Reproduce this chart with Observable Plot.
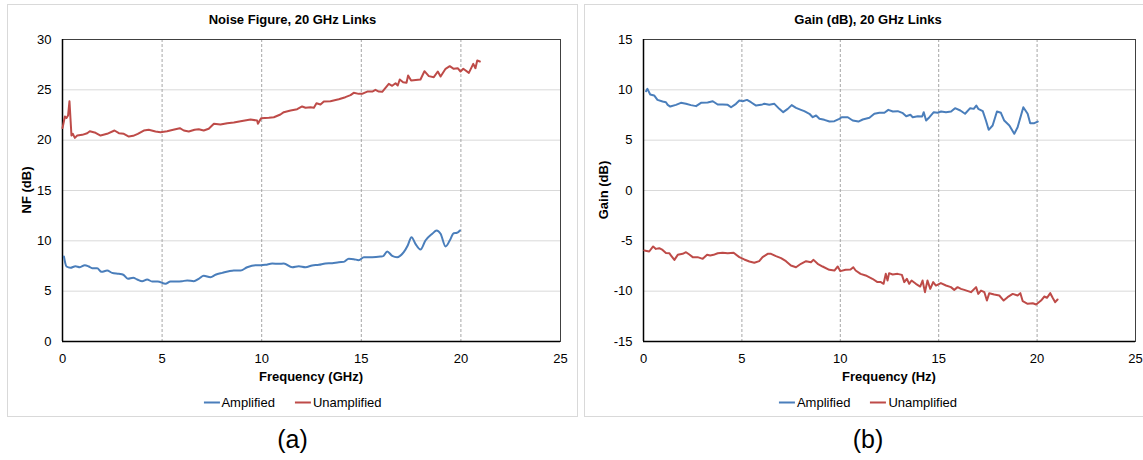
<!DOCTYPE html>
<html><head><meta charset="utf-8">
<script src="https://cdn.jsdelivr.net/npm/d3@7"></script>
<script src="https://cdn.jsdelivr.net/npm/@observablehq/plot@0.6"></script>
<style>
body{margin:0;background:#fff;font-family:"Liberation Sans",Arial,sans-serif;}
#root{position:relative;width:1143px;height:460px;overflow:hidden;}
.box{position:absolute;border:1px solid #d9d9d9;box-sizing:border-box;}
.t{position:absolute;white-space:nowrap;transform:translate(-50%,-50%);color:#000;line-height:1;}
.title{font-size:13px;font-weight:bold;}
.axt{font-size:13px;font-weight:bold;}
.yt{transform:translate(-50%,-50%) rotate(-90deg);}
.leg{font-size:13px;display:flex;align-items:center;}
.sw{display:inline-block;width:16px;height:2px;margin-right:2px;}
.cap{font-size:25px;}
.plot{position:absolute;top:0;}
</style></head>
<body><div id="root"></div>
<script>
// ---------- data ----------
const xTicks = [0, 5, 10, 15, 20, 25];
const nfTicks = [0, 5, 10, 15, 20, 25, 30];
const gainTicks = [-15, -10, -5, 0, 5, 10, 15];
const seriesNames = ["Amplified", "Unamplified"];
const seriesColors = ["#4a7ebb", "#be4b48"];

// (a) Noise figure, amplified
const nfAmpFreq = [0.07,0.2,0.4,0.65,0.87,1.12,1.32,1.49,1.74,1.96,2.24,2.49,2.83,3.05,3.28,3.55,3.75,4.0,4.25,4.5,4.78,5.17,5.42,5.76,6.0,6.26,6.59,6.84,7.09,7.43,7.68,8.02,8.35,8.6,8.94,9.27,9.69,9.97,10.19,10.53,10.86,11.11,11.53,11.86,12.2,12.53,12.87,13.2,13.54,13.87,14.12,14.37,14.62,14.87,15.13,15.55,15.96,16.1,16.3,16.55,16.8,17.13,17.33,17.52,17.72,17.97,18.22,18.56,18.78,18.98,19.23,19.44,19.64,19.81,19.95];
const nfAmpValues = [8.44,7.45,7.32,7.48,7.38,7.58,7.45,7.28,7.28,6.92,7.05,6.82,6.72,6.63,6.23,6.33,6.16,5.99,6.16,5.96,5.96,5.73,5.96,5.96,5.99,6.06,5.99,6.23,6.53,6.39,6.63,6.82,6.98,7.05,7.05,7.38,7.58,7.58,7.62,7.75,7.72,7.75,7.38,7.48,7.38,7.55,7.62,7.75,7.78,7.88,7.91,8.21,8.18,8.08,8.38,8.38,8.44,8.48,8.94,8.51,8.38,8.87,9.54,10.36,9.7,9.14,10.03,10.7,11.03,10.7,9.44,10.03,10.76,10.8,11.03];

// (a) Noise figure, unamplified
const nfUnFreq = [0.0,0.12,0.2,0.28,0.35,0.45,0.52,0.62,0.74,0.99,1.24,1.37,1.66,1.91,2.24,2.61,2.83,3.08,3.33,3.55,3.78,4.08,4.33,4.67,4.92,5.25,5.56,5.89,6.09,6.34,6.63,6.84,7.09,7.34,7.6,7.93,8.27,8.6,8.94,9.44,9.77,9.81,9.97,10.36,10.61,10.94,11.11,11.45,11.78,12.03,12.2,12.45,12.62,12.75,12.95,13.12,13.45,13.87,14.2,14.46,14.62,14.87,15.04,15.3,15.55,15.71,15.88,16.05,16.38,16.55,16.72,16.83,16.93,17.1,17.27,17.35,17.5,17.97,18.17,18.39,18.64,18.84,18.98,19.23,19.44,19.64,19.84,19.98,20.12,20.4,20.62,20.73,20.82,20.95];
const nfUnValues = [21.2,22.35,22.2,22.45,23.87,20.46,20.63,20.23,20.46,20.53,20.69,20.89,20.73,20.46,20.63,20.96,20.69,20.63,20.36,20.43,20.63,20.96,21.03,20.86,20.79,20.89,21.03,21.19,20.96,20.86,21.03,21.09,20.96,21.13,21.63,21.56,21.69,21.75,21.88,22.05,21.95,21.63,22.18,22.22,22.28,22.55,22.78,22.95,23.08,23.35,23.22,23.28,23.22,23.67,23.54,23.84,23.87,24.07,24.27,24.47,24.7,24.6,24.6,24.83,24.83,25.0,24.83,24.8,25.6,25.4,25.66,25.43,26.03,25.76,25.7,26.42,25.93,26.03,26.85,26.36,26.26,26.82,26.32,27.09,27.35,27.09,27.15,26.82,27.09,26.69,27.58,27.15,27.91,27.81];

// (b) Gain, amplified
const gainAmpFreq = [0.13,0.2,0.34,0.54,0.71,0.97,1.14,1.23,1.36,1.65,1.9,2.16,2.41,2.67,2.92,3.26,3.52,3.77,4.02,4.28,4.45,4.7,4.87,5.04,5.26,5.46,5.72,5.97,6.14,6.39,6.65,6.9,7.1,7.33,7.53,7.75,8.0,8.17,8.43,8.6,8.77,8.94,9.19,9.45,9.7,9.95,10.07,10.38,10.63,10.92,11.14,11.48,11.73,11.99,12.24,12.44,12.67,12.92,13.18,13.35,13.56,13.68,13.94,14.16,14.24,14.36,14.53,14.75,14.95,15.12,15.37,15.63,15.83,16.1,16.34,16.6,16.78,16.91,17.01,17.24,17.4,17.54,17.74,17.96,18.16,18.33,18.59,18.84,19.01,19.3,19.52,19.65,19.86,20.03];
const gainAmpValues = [9.87,10.1,9.54,9.44,9.0,8.84,8.77,8.51,8.34,8.51,8.71,8.61,8.48,8.38,8.71,8.74,8.87,8.54,8.54,8.51,8.27,8.61,8.94,8.87,9.0,8.77,8.44,8.51,8.61,8.51,8.61,8.11,7.78,8.11,8.48,8.21,8.01,7.88,7.62,7.28,7.45,7.12,7.02,6.85,6.89,7.12,7.28,7.28,6.95,6.85,7.05,7.22,7.62,7.72,7.72,8.01,7.85,7.88,7.68,7.38,7.52,7.28,7.38,7.35,7.78,6.95,7.28,7.78,7.72,7.85,7.78,7.85,8.18,7.95,7.62,8.18,8.11,8.44,8.11,7.88,6.95,6.03,6.46,7.85,7.72,6.95,6.46,5.63,6.29,8.27,7.62,6.69,6.69,6.85];

// (b) Gain, unamplified
const gainUnFreq = [0.04,0.29,0.49,0.63,0.8,0.97,1.14,1.31,1.4,1.57,1.74,1.99,2.16,2.33,2.5,2.75,3.01,3.23,3.39,3.56,3.77,4.02,4.28,4.58,4.87,5.12,5.38,5.63,5.88,6.05,6.31,6.48,6.73,6.99,7.24,7.49,7.75,8.0,8.26,8.51,8.64,8.85,9.1,9.44,9.7,9.87,10.0,10.27,10.52,10.66,10.78,11.03,11.29,11.63,11.89,12.06,12.2,12.31,12.4,12.48,12.66,12.91,13.13,13.25,13.38,13.5,13.62,13.84,14.06,14.18,14.3,14.43,14.57,14.72,14.86,15.11,15.37,15.62,15.79,15.96,16.13,16.3,16.64,16.9,17.01,17.15,17.32,17.45,17.57,17.82,18.08,18.3,18.5,18.76,19.01,19.15,19.27,19.52,19.78,19.95,20.2,20.37,20.5,20.67,20.79,20.92,21.04];
const gainUnValues = [-5.96,-6.06,-5.56,-5.8,-5.73,-5.9,-6.2,-6.23,-6.46,-6.89,-6.39,-6.29,-6.13,-6.36,-6.62,-6.62,-6.79,-6.39,-6.46,-6.39,-6.23,-6.19,-6.23,-6.19,-6.62,-6.85,-7.05,-7.18,-7.02,-6.62,-6.29,-6.29,-6.52,-6.72,-7.02,-7.45,-7.62,-7.28,-7.02,-7.12,-6.89,-7.28,-7.55,-7.88,-7.95,-7.55,-8.01,-7.88,-7.85,-7.62,-7.95,-8.28,-8.44,-8.77,-9.1,-9.1,-9.27,-8.28,-8.94,-8.21,-8.34,-8.28,-8.38,-9.1,-8.77,-9.27,-8.94,-9.27,-9.54,-8.94,-10.1,-8.94,-9.77,-9.1,-9.44,-9.2,-9.44,-9.6,-9.87,-9.6,-9.77,-9.87,-10.1,-9.6,-10.27,-9.94,-10.1,-10.93,-10.2,-10.33,-10.43,-10.93,-10.6,-10.27,-10.43,-10.2,-11.0,-11.26,-11.2,-11.32,-10.93,-10.53,-10.66,-10.2,-10.66,-11.09,-10.83];

// ---------- build ----------
const root = document.getElementById("root");
const toRows = (fs, vs) => fs.map((f, i) => ({f, v: vs[i]}));

function addEl(cls, text, x, y) {
  const d = document.createElement("div");
  d.className = cls;
  if (text != null) d.textContent = text;
  d.style.left = x + "px"; d.style.top = y + "px";
  root.appendChild(d);
  return d;
}

function panel(o) {
  const box = document.createElement("div");
  box.className = "box";
  Object.assign(box.style, {left: o.box[0] + "px", top: o.box[1] + "px", width: o.box[2] + "px", height: o.box[3] + "px"});
  root.appendChild(box);

  const chart = Plot.plot({
    width: o.width, height: 390,
    marginLeft: o.ml, marginRight: o.mr, marginTop: 39, marginBottom: 49,
    style: {fontFamily: "'Liberation Sans', Arial, sans-serif", fontSize: "13px", color: "#000", background: "transparent", overflow: "visible"},
    x: {domain: [0, 25]},
    y: {domain: o.ydom},
    marks: [
      Plot.ruleY(o.yticks, {stroke: "#d9d9d9", strokeWidth: 1}),
      Plot.ruleX([5, 10, 15, 20], {stroke: "#a6a6a6", strokeWidth: 1, strokeDasharray: "3,2"}),
      Plot.frame({stroke: "#404040", strokeWidth: 1}),
      Plot.ruleX([0], {stroke: "#000", strokeWidth: 1.5}),
      Plot.ruleY([o.ydom[0]], {stroke: "#000", strokeWidth: 1.5}),
      Plot.axisX({ticks: xTicks, tickSize: 0, tickPadding: 12, tickFormat: d => String(d), label: null, fontSize: 13}),
      Plot.axisY({ticks: o.yticks, tickSize: 0, tickPadding: 11, tickFormat: d => String(d), label: null, fontSize: 13}),
      Plot.line(toRows(o.f1, o.v1), {x: "f", y: "v", stroke: seriesColors[0], strokeWidth: 2, curve: o.curve1}),
      Plot.line(toRows(o.f2, o.v2), {x: "f", y: "v", stroke: seriesColors[1], strokeWidth: 2})
    ]
  });
  chart.classList.add("plot");
  chart.style.left = o.left + "px";
  root.appendChild(chart);

  addEl("t title", o.title, o.cx, 19);
  addEl("t axt", o.xlabel, o.pcx, 376);
  addEl("t axt yt", o.ylabel, o.ylx, 190);
  const leg = addEl("t leg", null, o.cx, 402);
  seriesNames.forEach((n, i) => {
    const it = document.createElement("span");
    it.style.display = "flex"; it.style.alignItems = "center"; it.style.marginRight = i === 0 ? "20px" : "0";
    const sw = document.createElement("span"); sw.className = "sw"; sw.style.background = seriesColors[i];
    const tx = document.createElement("span"); tx.textContent = n;
    it.appendChild(sw); it.appendChild(tx); leg.appendChild(it);
  });
  addEl("t cap", o.cap, o.cx, 439);
}

panel({
  box: [7, 4, 571, 413], left: 0, width: 578, ml: 62, mr: 18,
  ydom: [0, 30], yticks: nfTicks, f1: nfAmpFreq, v1: nfAmpValues, f2: nfUnFreq, v2: nfUnValues, curve1: "monotone-x",
  title: "Noise Figure, 20 GHz Links", xlabel: "Frequency (GHz)", ylabel: "NF (dB)",
  cx: 292.5, pcx: 311, ylx: 26, cap: "(a)"
});
panel({
  box: [584, 4, 580, 413], left: 580, width: 563, ml: 63, mr: 8,
  ydom: [-15, 15], yticks: gainTicks, f1: gainAmpFreq, v1: gainAmpValues, f2: gainUnFreq, v2: gainUnValues, curve1: "linear",
  title: "Gain (dB), 20 GHz Links", xlabel: "Frequency (Hz)", ylabel: "Gain (dB)",
  cx: 868, pcx: 889, ylx: 603, cap: "(b)"
});
</script></body></html>
